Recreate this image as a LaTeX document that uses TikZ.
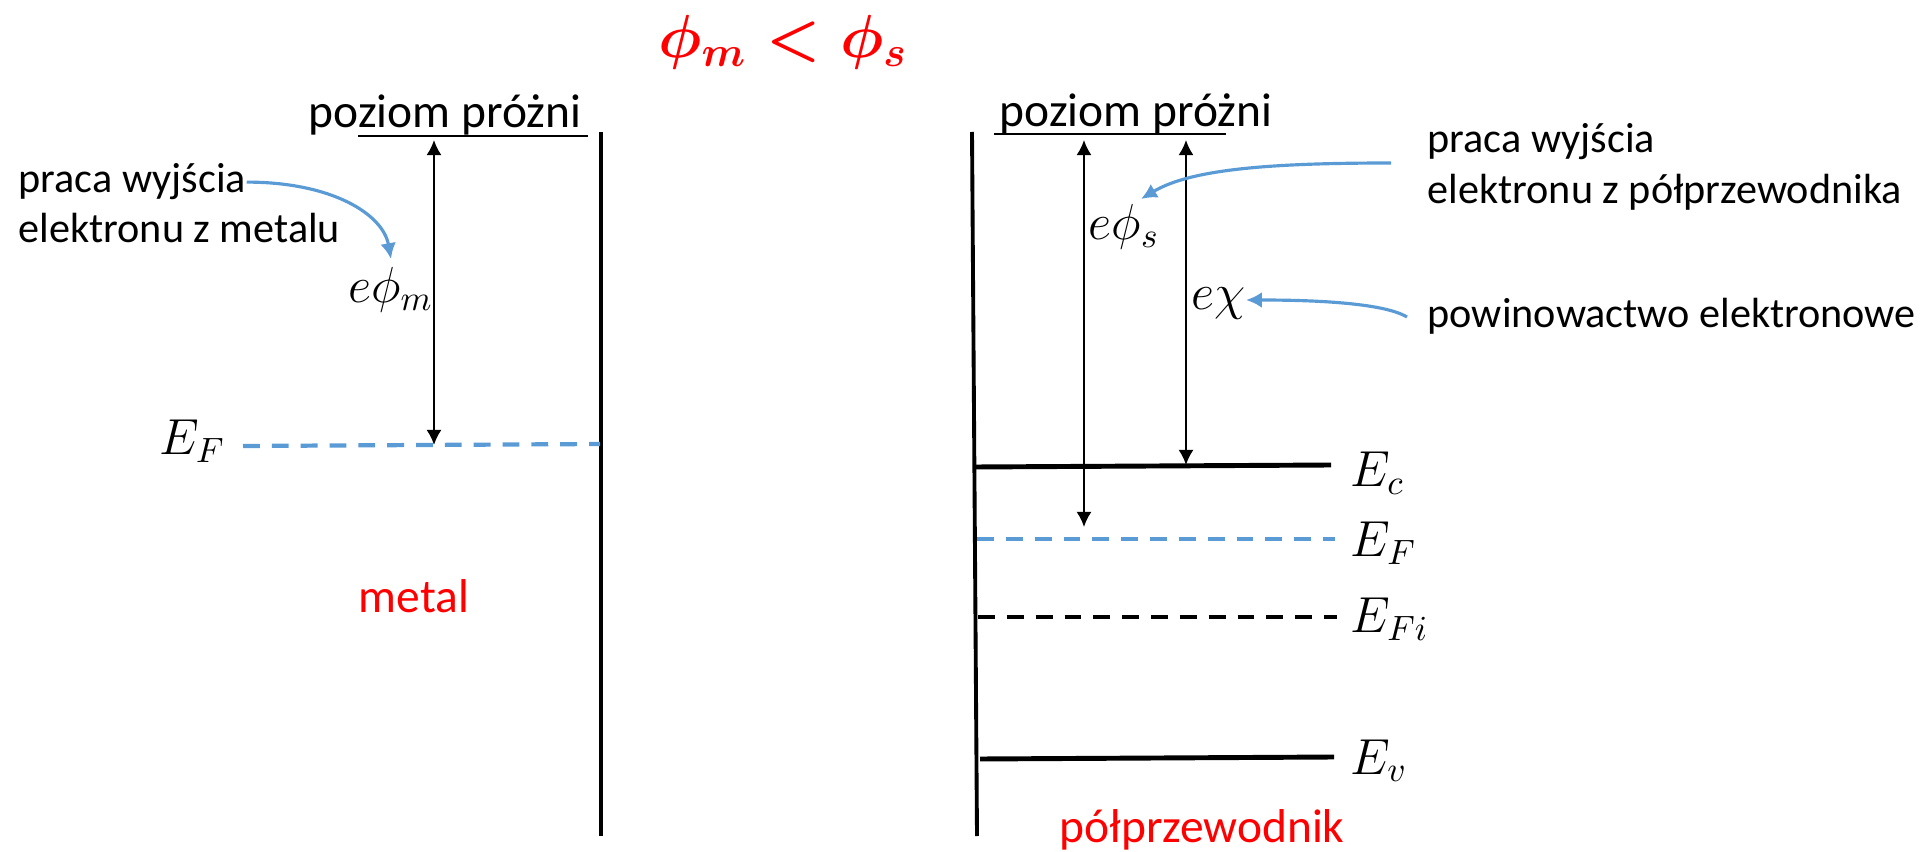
\documentclass[tikz,border=0pt]{standalone}
\usepackage{amsmath,amssymb}
\usepackage{fontspec}
\setmainfont{Carlito}
\usetikzlibrary{arrows.meta}
\definecolor{niebieski}{RGB}{91,155,213}
\definecolor{czerwony}{RGB}{255,0,0}
\tikzset{
  poziom/.style={line width=1.4pt},
  fermi/.style={line width=1.2pt,dash pattern=on 4.8pt off 3.4pt},
  strzalka/.style={line width=0.6pt,{Latex[length=4.3pt,width=4.3pt]}-{Latex[length=4.3pt,width=4.3pt]}},
  opis/.style={niebieski,line width=0.9pt,-{Latex[length=4.5pt,width=4.5pt]}},
  tekst/.style={inner sep=0pt,font=\fontsize{12}{14}\selectfont},
  duzy/.style={inner sep=0pt,font=\fontsize{13.5}{16}\selectfont},
  wzor/.style={inner sep=0pt,font=\fontsize{14}{16}\selectfont}
}
\begin{document}
\begin{tikzpicture}[x=0.01cm,y=-0.01cm]
\useasboundingbox (0,0) rectangle (1927,852);
% tytul
\node[inner sep=0pt,text=czerwony,font=\fontsize{18.5}{22}\selectfont] (tytul) at (783,42) {$\boldsymbol{\phi_m<\phi_s}$};

% metal
\coordinate (mGora) at (601,132);
\coordinate (mDol) at (601,836);
\draw[line width=1.1pt] (mGora) -- (mDol);
\node[duzy,anchor=base west] (prozniaM) at (308,128) {poziom próżni};
\coordinate (vacM1) at (358,136);
\coordinate (vacM2) at (588,136);
\draw[line width=0.6pt] (vacM1) -- (vacM2);
\coordinate (efM1) at (243,446);
\coordinate (efM2) at (600,444);
\draw[fermi,niebieski] (efM1) -- (efM2);
\node[wzor,anchor=base east] (lefM) at (226,455) {$E_F$};
\coordinate (phiM1) at (434,140);
\coordinate (phiM2) at (434,445);
\draw[strzalka] (phiM1) -- (phiM2);
\node[wzor,anchor=base east] (ephiM) at (434,303) {$e\phi_m$};
\node[tekst,anchor=base west] (pracaM1) at (18,193) {praca wyjścia};
\node[tekst,anchor=base west] (pracaM2) at (18,243) {elektronu z metalu};
\coordinate (celM) at (391,259);
\draw[opis] (pracaM1.east) .. controls +(85,0) and +(-8,-45) .. (celM);
\node[duzy,anchor=base,text=czerwony] (metal) at (414,612) {metal};

% polprzewodnik
\coordinate (sGora) at (972,132);
\coordinate (sDol) at (977,836);
\draw[line width=1.1pt] (sGora) -- (sDol);
\node[duzy,anchor=base west] (prozniaS) at (999,127) {poziom próżni};
\coordinate (vacS1) at (994,134);
\coordinate (vacS2) at (1226,134);
\draw[line width=0.6pt] (vacS1) -- (vacS2);
\coordinate (ec1) at (975,467);
\coordinate (ec2) at (1331,465);
\draw[poziom] (ec1) -- (ec2);
\coordinate (ef1) at (977,539);
\coordinate (ef2) at (1335,539);
\draw[fermi,niebieski] (ef1) -- (ef2);
\coordinate (efi1) at (978,617);
\coordinate (efi2) at (1337,617);
\draw[fermi] (efi1) -- (efi2);
\coordinate (ev1) at (980,759);
\coordinate (ev2) at (1334,757);
\draw[poziom] (ev1) -- (ev2);
\foreach \y/\t/\n in {487/c/ec,557/F/ef,633/Fi/efi,774/v/ev} {
  \node[wzor,anchor=base west] (l\n) at (1350,\y) {$E_{\t}$};
}
\coordinate (phiS1) at (1084,140);
\coordinate (phiS2) at (1084,527);
\draw[strzalka] (phiS1) -- (phiS2);
\coordinate (chi1) at (1186,140);
\coordinate (chi2) at (1186,465);
\draw[strzalka] (chi1) -- (chi2);
\node[wzor,anchor=base west] (ephiS) at (1088,240) {$e\phi_s$};
\node[wzor,anchor=base west] (echi) at (1191,310) {$e\chi$};
\node[tekst,anchor=base west] (pracaS1) at (1427,153) {praca wyjścia};
\node[tekst,anchor=base west] (pracaS2) at (1427,204) {elektronu z półprzewodnika};
\node[tekst,anchor=base west] (powin) at (1427,328) {powinowactwo elektronowe};
\coordinate (startS) at (1391,163);
\coordinate (celS) at (1141,199);
\draw[opis] (startS) .. controls +(-120,0) and +(50,-30) .. (celS);
\coordinate (startC) at (1407,317);
\coordinate (celC) at (1246,300);
\draw[opis] (startC) .. controls +(-25,-15) and +(60,0) .. (celC);
\node[duzy,anchor=base,text=czerwony] (polprz) at (1202,842) {półprzewodnik};
\end{tikzpicture}
\end{document}
